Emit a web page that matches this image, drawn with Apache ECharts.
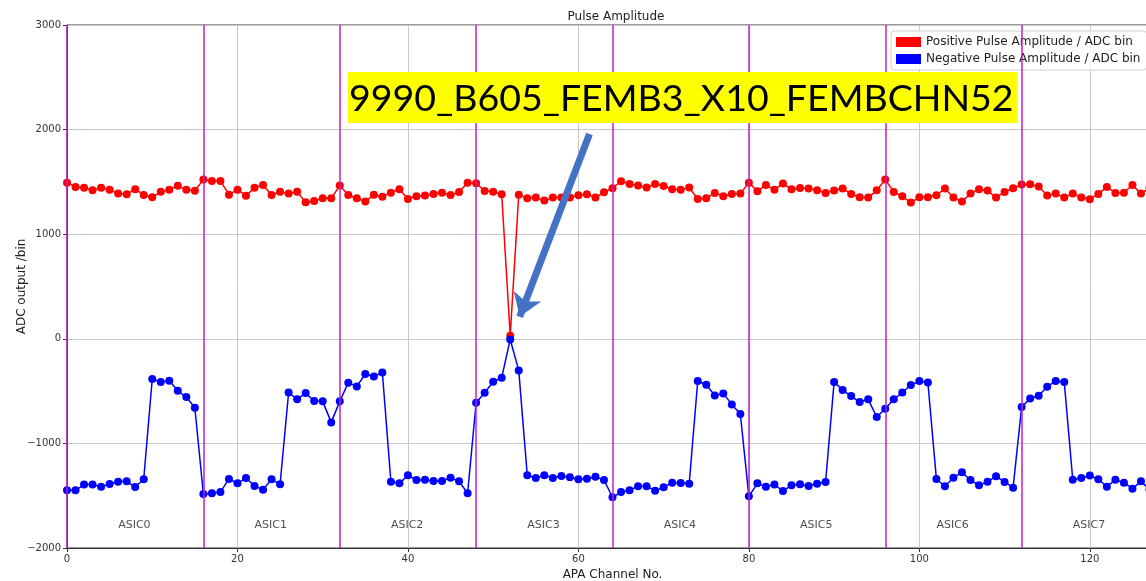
<!DOCTYPE html>
<html>
<head>
<meta charset="utf-8">
<script src="https://cdn.jsdelivr.net/npm/echarts@6/dist/echarts.min.js"></script>
<style>
  html, body { margin: 0; padding: 0; background: #fff; }
  #PulseView { width: 1146px; height: 581px; }
</style>
</head>
<body>
<div id="PulseView"></div>
<script>
// channel values (APA channel 0..127)
const posAmp = [1493, 1452, 1445, 1420, 1445, 1426, 1388, 1381, 1430, 1375, 1353, 1405, 1426, 1462, 1426, 1416,
  1522, 1509, 1509, 1378, 1426, 1368, 1445, 1471, 1375, 1407, 1388, 1407, 1305, 1317, 1343, 1343,
  1465, 1375, 1343, 1312, 1378, 1359, 1397, 1430, 1337, 1363, 1369, 1385, 1397, 1375, 1404, 1493,
  1487, 1414, 1407, 1382, 30, 1378, 1343, 1350, 1321, 1350, 1350, 1350, 1372, 1382, 1350, 1401,
  1439, 1506, 1480, 1465, 1446, 1480, 1461, 1430, 1426, 1446, 1337, 1343, 1394, 1363, 1385, 1388,
  1493, 1410, 1471, 1426, 1484, 1430, 1442, 1436, 1420, 1394, 1417, 1436, 1385, 1353, 1350, 1420,
  1522, 1404, 1363, 1302, 1353, 1353, 1372, 1436, 1350, 1312, 1388, 1430, 1417, 1350, 1404, 1439,
  1474, 1477, 1455, 1369, 1388, 1350, 1388, 1350, 1334, 1385, 1452, 1394, 1397, 1471, 1388, 1440];

const negAmp = [-1449, -1449, -1394, -1394, -1414, -1388, -1366, -1363, -1417, -1343, -385, -414, -401, -497, -557, -659,
  -1484, -1477, -1465, -1340, -1382, -1331, -1407, -1442, -1343, -1391, -513, -579, -519, -595, -598, -799,
  -598, -420, -455, -337, -360, -322, -1366, -1382, -1305, -1350, -1347, -1359, -1359, -1328, -1363, -1477,
  -611, -516, -411, -372, -6, -302, -1305, -1331, -1305, -1331, -1312, -1324, -1343, -1337, -1318, -1350,
  -1515, -1465, -1449, -1410, -1410, -1452, -1420, -1375, -1379, -1385, -404, -439, -541, -522, -627, -720,
  -1506, -1382, -1414, -1394, -1455, -1401, -1391, -1407, -1385, -1369, -414, -490, -548, -605, -579, -748,
  -669, -579, -513, -442, -404, -417, -1340, -1410, -1328, -1277, -1350, -1401, -1366, -1315, -1369, -1423,
  -653, -570, -544, -458, -404, -414, -1347, -1331, -1308, -1343, -1414, -1347, -1375, -1433, -1363, -1440];

const asicNames = ["ASIC0", "ASIC1", "ASIC2", "ASIC3", "ASIC4", "ASIC5", "ASIC6", "ASIC7"];
const asicLabelX = [6, 22, 38, 54, 70, 86, 102, 118];
const asicLabelY = -1780;
const asicEdges = [0, 16, 32, 48, 64, 80, 96, 112, 128];
const badChannelText = "9990_B605_FEMB3_X10_FEMBCHN52";
const arrowFrom = [61.3, 1958];
const arrowTo = [53.1, 210];

const channels = posAmp.map((v, i) => i);
const posData = channels.map((c) => [c, posAmp[c]]);
const negData = channels.map((c) => [c, negAmp[c]]);
const asicData = asicNames.map((n, i) => [asicLabelX[i], asicLabelY, n]);

const minusFmt = (v) => String(v).replace("-", "\u2212");
const font = "DejaVu Sans";

let chart = echarts.init(document.getElementById("PulseView"));
let option = {
  animation: false,
  title: {
    text: "Pulse Amplitude",
    left: 611,
    textAlign: "center",
    top: 6,
    textStyle: { fontFamily: font, fontSize: 12, fontWeight: "normal", color: "#222" },
  },
  legend: {
    data: ["Positive Pulse Amplitude / ADC bin", "Negative Pulse Amplitude / ADC bin"],
    orient: "vertical",
    left: 891,
    top: 31,
    icon: "rect",
    itemWidth: 25,
    itemHeight: 10,
    itemGap: 5,
    padding: [5, 6, 5, 5],
    backgroundColor: "rgba(255,255,255,0.8)",
    borderColor: "#d0d0d0",
    borderWidth: 1,
    borderRadius: 3,
    textStyle: { fontFamily: font, fontSize: 12, color: "#222" },
  },
  grid: {
    left: 67,
    top: 25,
    width: 1091,
    height: 523,
    outerBoundsMode: "none",
    containLabel: false,
    show: true,
    borderColor: "#333",
    borderWidth: 1,
  },
  xAxis: {
    type: "value",
    min: 0,
    max: 128,
    interval: 20,
    name: "APA Channel No.",
    nameLocation: "middle",
    nameGap: 21,
    nameTextStyle: { fontFamily: font, fontSize: 12, color: "#222" },
    axisLine: { onZero: false, lineStyle: { color: "#333" } },
    axisTick: { show: true, length: 4, lineStyle: { color: "#333" } },
    axisLabel: { fontFamily: font, fontSize: 10, color: "#333", margin: 6, showMaxLabel: false },
    splitLine: { show: true, lineStyle: { color: "#c8c8c8", width: 1 } },
  },
  yAxis: {
    type: "value",
    min: -2000,
    max: 3000,
    interval: 1000,
    name: "ADC output /bin",
    nameLocation: "middle",
    nameGap: 39,
    nameMoveOverlap: false,
    nameTextStyle: { fontFamily: font, fontSize: 12, color: "#222" },
    axisLine: { show: true, onZero: false, lineStyle: { color: "#333" } },
    axisTick: { show: true, length: 4, lineStyle: { color: "#333" } },
    axisLabel: { fontFamily: font, fontSize: 10, color: "#333", margin: 6, formatter: minusFmt },
    splitLine: { show: true, lineStyle: { color: "#c8c8c8", width: 1 } },
  },
  graphic: [
    {
      type: "rect",
      shape: { x: 348, y: 72, width: 669, height: 51 },
      style: { fill: "#ffff00" },
      z: 100,
    },
    {
      type: "text",
      x: 349,
      y: 99,
      style: {
        text: badChannelText,
        font: "37.5px Lato",
        fill: "#000",
        verticalAlign: "middle",
      },
      z: 101,
    },
  ],
  series: [
    {
      name: "Positive Pulse Amplitude / ADC bin",
      type: "line",
      data: posData,
      color: "#ff0000",
      symbol: "circle",
      symbolSize: 8,
      lineStyle: { width: 1.5 },
      markLine: {
        silent: true,
        symbol: "none",
        label: { show: false },
        lineStyle: { color: "#c020c8", width: 1.5, type: "solid" },
        data: asicEdges.map((x) => ({ xAxis: x })),
      },
    },
    {
      name: "Negative Pulse Amplitude / ADC bin",
      type: "line",
      data: negData,
      color: "#0000ff",
      symbol: "circle",
      symbolSize: 8,
      lineStyle: { width: 1.5 },
      markLine: {
        silent: true,
        symbol: ["none", "arrow"],
        symbolSize: 22,
        label: { show: false },
        lineStyle: { color: "#4472c4", width: 7, type: "solid" },
        data: [[{ coord: arrowFrom }, { coord: arrowTo }]],
        z: 10,
      },
    },
    {
      name: "asic",
      type: "scatter",
      data: asicData,
      symbolSize: 0,
      silent: true,
      label: {
        show: true,
        position: [0, 0],
        align: "left",
        verticalAlign: "middle",
        formatter: (p) => p.value[2],
        fontFamily: font,
        fontSize: 11,
        color: "#222",
      },
    },
  ],
};
chart.setOption(option);
</script>
</body>
</html>
